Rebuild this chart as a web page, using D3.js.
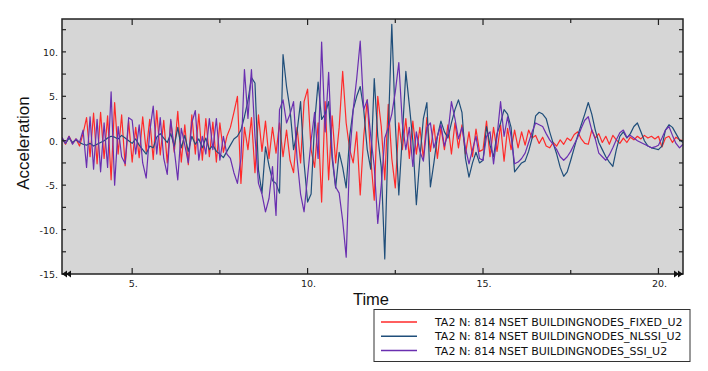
<!DOCTYPE html>
<html>
<head>
<meta charset="utf-8">
<script src="https://cdn.jsdelivr.net/npm/d3@7"></script>
<style>
  body { margin: 0; background: #fff; }
  svg { display: block; }
</style>
</head>
<body>
<svg id="chart" width="708" height="371"></svg>
<script>
//------------------------------------------------------------------------------
// Data (sampled every 0.1 s starting at t = 3.0)
//------------------------------------------------------------------------------
var tStart = 3.0;
var tStep = 0.1;

var seriesNames = [
  "TA2 N: 814 NSET BUILDINGNODES_FIXED_U2",
  "TA2 N: 814 NSET BUILDINGNODES_NLSSI_U2",
  "TA2 N: 814 NSET BUILDINGNODES_SSI_U2"
];

var fixedU2 = [
  0.3,-0.4,0.5,-0.3,0.2,-0.6,0.8,2.6,-1.8,3.1,
  -2.6,3.2,-2.0,2.8,-4.4,4.3,-1.5,2.9,-2.8,2.2,
  -2.4,1.5,-1.9,2.7,-1.2,2.4,-2.1,3.4,-1.6,2.3,
  -2.5,2.2,-1.3,3.3,-2.4,1.8,-2.7,2.9,-1.5,3.0,
  -2.2,2.5,-1.8,2.1,-2.4,2.0,-1.3,0.5,1.5,3.2,
  5.0,-4.8,1.5,-1.0,2.6,-3.6,2.9,-1.2,2.2,-2.0,
  1.5,-1.4,2.0,-1.8,1.2,-2.2,-3.6,1.5,-2.5,4.4,
  5.8,-1.0,-3.0,2.0,-6.9,4.4,-4.4,2.8,-2.5,1.5,
  7.8,2.0,-1.0,-2.5,1.0,-6.1,0.5,4.6,-2.0,-6.7,
  5.0,1.6,-4.4,4.1,-2.0,-5.3,2.0,-1.0,2.5,-2.0,
  2.2,-1.5,1.5,-2.0,2.6,-1.2,1.8,-2.0,1.5,-1.0,
  1.8,-1.5,2.0,-0.8,1.8,-1.5,1.0,-1.8,1.3,-1.2,
  -1.0,2.2,-1.8,1.5,-1.2,1.8,-2.3,1.4,-1.0,1.2,
  -0.8,1.0,-0.5,1.2,0.3,0.6,-0.3,0.4,-0.6,-0.8,
  -0.2,-0.6,0.1,-0.4,0.3,0.0,0.7,1.0,0.2,-0.3,
  -0.4,1.2,0.3,0.8,-0.2,0.5,-0.4,0.6,0.1,-0.3,
  0.3,-0.2,0.4,0.1,0.5,0.2,0.6,0.3,0.5,0.2,
  0.5,-0.7,0.3,0.5,-0.2,0.4,0.1,0.0
];

var nlssiU2 = [
  0.2,-0.3,0.3,-0.2,0.1,-0.2,-0.4,-0.5,-0.3,-0.6,
  -0.4,-0.2,0.0,0.3,0.5,0.4,0.2,0.6,0.3,0.0,
  -0.3,0.2,-0.5,-1.0,-1.5,-0.6,-0.8,0.4,0.8,0.3,
  -0.2,0.8,-0.6,1.5,-0.8,0.6,-1.2,0.5,-0.4,0.2,
  -0.8,0.3,-1.0,-0.5,-1.2,-1.5,-1.9,-1.2,-0.5,0.2,
  0.5,1.2,2.7,4.5,7.1,6.5,-3.3,-5.9,-0.7,-2.8,
  -4.5,-4.8,-5.9,9.7,6.1,3.5,-1.0,1.0,4.4,-2.5,
  -6.9,-6.0,2.0,6.6,2.4,3.0,4.4,-2.0,-5.3,-1.3,
  -3.0,-5.3,0.5,3.5,5.0,6.1,3.5,-1.0,-3.2,7.0,
  0.5,-3.0,-13.3,1.0,13.1,2.0,-6.1,0.5,7.8,4.0,
  0.0,-7.2,-2.0,2.5,4.3,-5.2,-2.5,0.5,2.2,1.0,
  0.3,2.0,3.5,4.6,3.2,-2.0,-4.1,-2.5,-1.3,-2.5,
  -2.2,1.6,-0.5,-1.8,0.8,2.0,3.5,3.0,1.5,-3.5,
  -3.0,-2.5,-2.3,-1.2,0.3,2.8,3.2,3.0,2.5,1.0,
  -0.3,-1.5,-3.0,-4.0,-3.5,-2.2,-0.8,0.6,1.8,3.0,
  4.3,3.0,1.2,-0.2,-1.0,-1.8,-2.4,-2.9,-1.0,0.5,
  1.0,0.3,0.8,1.6,2.0,1.0,0.0,-0.6,-0.8,-0.9,
  -1.0,-0.6,1.2,1.8,1.5,0.8,0.1,-0.2
];

var ssiU2 = [
  0.4,-0.3,0.5,-0.4,0.2,-0.2,1.2,-3.0,2.7,-3.2,
  2.4,-3.5,2.0,-3.0,5.5,-5.0,1.6,-1.8,-2.6,2.6,
  2.3,-1.5,1.8,-2.5,-4.2,1.0,3.9,-1.5,2.6,-2.0,
  -3.8,2.4,-1.0,-4.4,1.4,-0.5,-2.5,2.0,3.4,-2.2,
  0.5,-1.5,2.5,-1.0,2.5,-2.2,0.5,-1.5,-2.0,-3.6,
  -4.8,-2.0,8.0,2.5,8.0,0.5,-4.8,-6.0,-8.0,-6.5,
  -2.9,-8.4,3.5,4.6,2.0,3.0,4.4,-2.0,-6.0,-8.0,
  -4.0,0.0,3.2,-2.0,11.1,1.0,7.7,-1.5,-5.2,-5.9,
  -9.0,-13.1,-1.8,3.5,7.0,11.2,3.5,4.6,0.5,-2.9,
  -9.3,-5.0,0.3,1.5,3.0,5.5,8.8,2.0,-1.0,1.5,
  -2.9,1.0,-1.2,-2.3,1.5,2.0,-0.8,0.5,1.8,-0.6,
  0.8,4.4,2.5,0.2,1.5,-0.8,-2.6,-1.0,0.5,-2.0,
  -2.2,0.5,1.0,-2.6,0.5,4.4,0.5,2.7,0.5,-2.6,
  -2.4,-2.0,-1.4,-0.2,1.0,2.0,1.8,1.6,0.8,0.1,
  -0.4,-1.0,-1.8,-2.2,-1.8,-1.2,-0.4,0.4,1.4,2.3,
  2.7,1.2,0.2,-1.4,-1.8,-2.2,-1.6,-0.8,0.1,0.9,
  1.2,0.4,0.6,0.3,0.0,-0.2,-0.4,-0.6,-0.8,-0.7,
  -0.5,0.3,1.2,1.6,0.6,-0.3,-0.8,-0.4
];

var seriesValues = [fixedU2, nlssiU2, ssiU2];
var seriesColors = ["#ff2a2a", "#1f4e7a", "#6a2fb0"];

var xMajorTicks = [5, 10, 15, 20];
var xMinorTicks = [7.5, 12.5, 17.5];
var yMajorTicks = [10, 5, 0, -5, -10, -15];
var yMinorTicks = [12.5, 7.5, 2.5, -2.5, -7.5, -12.5];

//------------------------------------------------------------------------------
// Chart
//------------------------------------------------------------------------------
function drawChart() {
  var svg = d3.select("#chart");
  var pLeft = 62, pRight = 683, pTop = 19, pBottom = 274;

  var x = d3.scaleLinear().domain([3, 20.7]).range([pLeft, pRight]);
  var y = d3.scaleLinear().domain([-15, 13.7]).range([pBottom, pTop]);

  // plot background
  svg.append("rect")
    .attr("x", pLeft).attr("y", pTop)
    .attr("width", pRight - pLeft).attr("height", pBottom - pTop)
    .attr("fill", "#d6d6d6");

  // clip
  svg.append("clipPath").attr("id", "clip")
    .append("rect")
    .attr("x", pLeft).attr("y", pTop)
    .attr("width", pRight - pLeft).attr("height", pBottom - pTop);

  var line = d3.line()
    .x(function (d, i) { return x(tStart + i * tStep); })
    .y(function (d) { return y(d); });

  var lines = svg.append("g").attr("clip-path", "url(#clip)");
  seriesValues.forEach(function (vals, k) {
    lines.append("path")
      .datum(vals)
      .attr("fill", "none")
      .attr("stroke", seriesColors[k])
      .attr("stroke-width", 1.2)
      .attr("stroke-linejoin", "round")
      .attr("d", line);
  });

  // frame
  svg.append("rect")
    .attr("x", pLeft).attr("y", pTop)
    .attr("width", pRight - pLeft).attr("height", pBottom - pTop)
    .attr("fill", "none")
    .attr("stroke", "#222")
    .attr("stroke-width", 1.5);

  // ticks (inside the frame, on all four sides)
  var ticks = svg.append("g").attr("stroke", "#222").attr("stroke-width", 1.2);
  xMajorTicks.forEach(function (t) {
    ticks.append("line").attr("x1", x(t)).attr("x2", x(t)).attr("y1", pBottom).attr("y2", pBottom - 6);
    ticks.append("line").attr("x1", x(t)).attr("x2", x(t)).attr("y1", pTop).attr("y2", pTop + 6);
  });
  xMinorTicks.forEach(function (t) {
    ticks.append("line").attr("x1", x(t)).attr("x2", x(t)).attr("y1", pBottom).attr("y2", pBottom - 4);
    ticks.append("line").attr("x1", x(t)).attr("x2", x(t)).attr("y1", pTop).attr("y2", pTop + 4);
  });
  yMajorTicks.concat(yMinorTicks).forEach(function (v) {
    ticks.append("line").attr("x1", pLeft).attr("x2", pLeft + 4).attr("y1", y(v)).attr("y2", y(v));
    ticks.append("line").attr("x1", pRight).attr("x2", pRight - 4).attr("y1", y(v)).attr("y2", y(v));
  });

  // end arrows on the time axis
  var arrows = svg.append("g").attr("fill", "#111");
  [0, 4].forEach(function (o) {
    arrows.append("path").attr("d", "M" + (pLeft + o) + "," + pBottom + "l5,-3.5v7z");
    arrows.append("path").attr("d", "M" + (pRight - o) + "," + pBottom + "l-5,-3.5v7z");
  });

  // tick labels
  var labelFont = "'DejaVu Sans', Verdana, sans-serif";
  svg.append("g").selectAll("text")
    .data(yMajorTicks).enter().append("text")
    .attr("x", pLeft - 4)
    .attr("y", function (d) { return y(d) + 4; })
    .attr("text-anchor", "end")
    .attr("font-family", labelFont)
    .attr("font-size", "9.5px")
    .attr("fill", "#222")
    .text(function (d) { return d + "."; });

  svg.append("g").selectAll("text")
    .data(xMajorTicks).enter().append("text")
    .attr("x", function (d) { return x(d) + 1; })
    .attr("y", pBottom + 13)
    .attr("text-anchor", "middle")
    .attr("font-family", labelFont)
    .attr("font-size", "9.5px")
    .attr("fill", "#222")
    .text(function (d) { return d + "."; });

  // axis titles
  svg.append("text")
    .attr("x", 371).attr("y", 305)
    .attr("text-anchor", "middle")
    .attr("font-family", "'Liberation Sans', Arial, sans-serif")
    .attr("font-size", "16.5px")
    .attr("fill", "#111")
    .text("Time");

  svg.append("text")
    .attr("transform", "translate(29,143) rotate(-90)")
    .attr("text-anchor", "middle")
    .attr("font-family", "'Liberation Sans', Arial, sans-serif")
    .attr("font-size", "17px")
    .attr("fill", "#111")
    .text("Acceleration");

  // legend
  var legend = svg.append("g");
  legend.append("rect")
    .attr("x", 374).attr("y", 309.5)
    .attr("width", 316).attr("height", 52)
    .attr("fill", "#fff")
    .attr("stroke", "#333")
    .attr("stroke-width", 1);

  seriesNames.forEach(function (name, k) {
    var ly = 322 + k * 14.3;
    legend.append("line")
      .attr("x1", 381).attr("x2", 417)
      .attr("y1", ly).attr("y2", ly)
      .attr("stroke", seriesColors[k])
      .attr("stroke-width", 1.5);
    legend.append("text")
      .attr("x", 435).attr("y", ly + 4)
      .attr("font-family", labelFont)
      .attr("font-size", "11px")
      .attr("fill", "#111")
      .text(name);
  });
}

drawChart();
</script>
</body>
</html>
